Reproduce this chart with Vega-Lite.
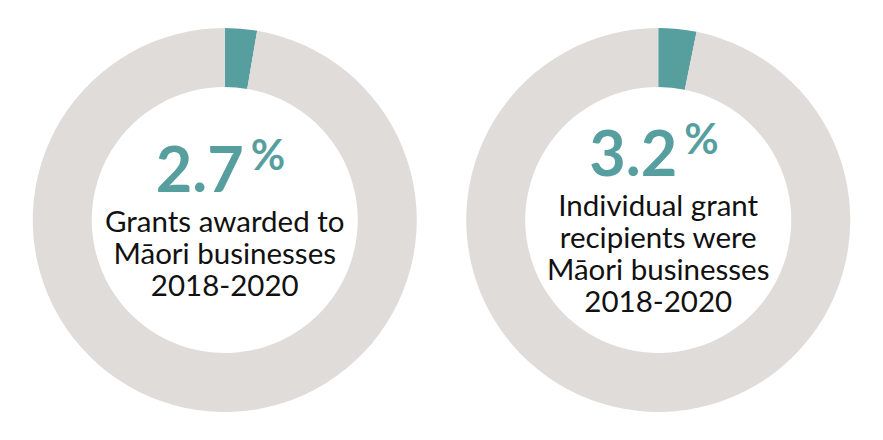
{
  "$schema": "https://vega.github.io/schema/vega-lite/v6.json",
  "width": 883,
  "height": 440,
  "autosize": {"type": "fit", "contains": "padding"},
  "padding": 0,
  "background": "white",
  "config": {"view": {"stroke": null}},
  "datasets": {
    "arcs": [
      {"chart": "A", "part": "Māori", "start": 0, "end": 2.7},
      {"chart": "A", "part": "Other", "start": 2.7, "end": 100},
      {"chart": "B", "part": "Māori", "start": 0, "end": 3.2},
      {"chart": "B", "part": "Other", "start": 3.2, "end": 100}
    ],
    "numbers": [
      {"chart": "A", "value": "2.7", "line": -0.25},
      {"chart": "B", "value": "3.2", "line": -0.75}
    ],
    "labels": [
      {"chart": "A", "text": "Grants awarded to", "line": 1},
      {"chart": "A", "text": "Māori businesses", "line": 2},
      {"chart": "A", "text": "2018-2020", "line": 3},
      {"chart": "B", "text": "Individual grant", "line": 0.5},
      {"chart": "B", "text": "recipients were", "line": 1.5},
      {"chart": "B", "text": "Māori businesses", "line": 2.5},
      {"chart": "B", "text": "2018-2020", "line": 3.5}
    ]
  },
  "encoding": {
    "x": {"field": "chart", "type": "nominal", "scale": {"type": "point", "padding": 0.5185}, "axis": null}
  },
  "layer": [
    {
      "data": {"name": "arcs"},
      "mark": {"type": "arc", "radius": 192, "radius2": 133},
      "encoding": {
        "theta": {"field": "start", "type": "quantitative", "scale": {"domain": [0, 100]}, "stack": null},
        "theta2": {"field": "end"},
        "color": {"field": "part", "type": "nominal", "scale": {"domain": ["Māori", "Other"], "range": ["#579f9f", "#dfdcda"]}, "legend": null}
      }
    },
    {
      "data": {"name": "numbers"},
      "mark": {"type": "text", "font": "Lato", "fontWeight": "bold", "fontSize": 63, "color": "#579f9f", "align": "right", "baseline": "alphabetic", "dx": 19},
      "encoding": {
        "y": {"field": "line", "type": "quantitative", "scale": {"domain": [-6.25, 7.5], "reverse": true}, "axis": null},
        "text": {"field": "value"}
      }
    },
    {
      "data": {"name": "numbers"},
      "mark": {"type": "text", "font": "Lato", "fontWeight": "bold", "fontSize": 42, "color": "#579f9f", "align": "left", "baseline": "alphabetic", "dx": 26, "dy": -22, "text": "%"},
      "encoding": {
        "y": {"field": "line", "type": "quantitative", "scale": {"domain": [-6.25, 7.5], "reverse": true}, "axis": null}
      }
    },
    {
      "data": {"name": "labels"},
      "mark": {"type": "text", "font": "Lato", "fontSize": 29.5, "color": "#111111", "align": "center", "baseline": "alphabetic"},
      "encoding": {
        "y": {"field": "line", "type": "quantitative", "scale": {"domain": [-6.25, 7.5], "reverse": true}, "axis": null},
        "text": {"field": "text"}
      }
    }
  ]
}
